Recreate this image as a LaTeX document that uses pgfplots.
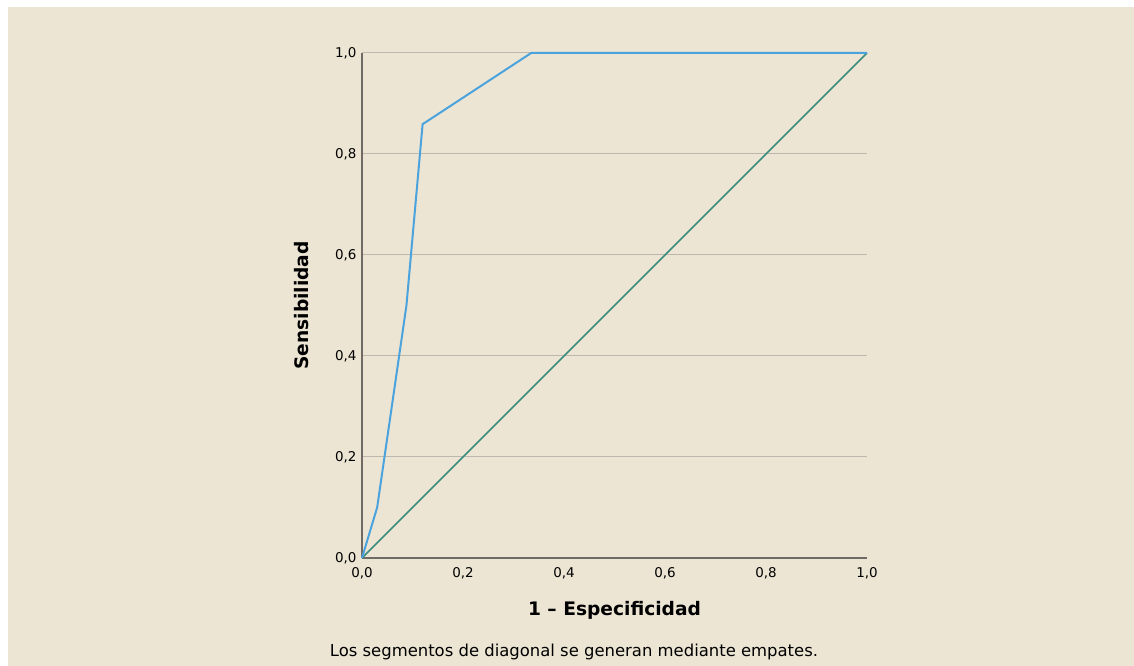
\documentclass[border=0pt]{standalone}
\usepackage{pgfplots}
\pgfplotsset{compat=1.18}
\usepackage{fontspec}
\setmainfont{DejaVu Sans}
\definecolor{bg}{HTML}{ECE5D3}
\definecolor{roc}{HTML}{4BA3DE}
\definecolor{diag}{HTML}{3B8C80}
\definecolor{gridc}{HTML}{BDB8AD}
\definecolor{axc}{HTML}{6F6A64}
\begin{document}
\begin{tikzpicture}[x=1bp,y=1bp]
\fill[white] (0,0) rectangle (1134,666);
\fill[bg] (8,0) rectangle (1134,659);
\begin{axis}[
  at={(362bp,108bp)}, anchor=south west,
  scale only axis, width=505bp, height=505bp,
  xmin=0, xmax=1, ymin=0, ymax=1,
  axis lines*=left,
  axis line style={draw=axc, line width=2bp, -},
  xtick={0,0.2,0.4,0.6,0.8,1}, ytick={0,0.2,0.4,0.6,0.8,1},
  major tick length=0pt,
  ymajorgrids, major grid style={draw=gridc, line width=1bp},
  /pgf/number format/.cd, use comma, fixed, fixed zerofill, precision=1, assume math mode=true,
  /pgfplots/.cd,
  tick label style={font=\fontsize{13.5}{13.5}\selectfont, text=black},
  xticklabel style={yshift=-6bp},
  yticklabel style={xshift=-2bp},
  xlabel={1 – Especificidad},
  ylabel={Sensibilidad},
  label style={font=\bfseries\fontsize{18.7}{18.7}\selectfont},
  xlabel style={at={(axis description cs:0.5,-0.103)}, anchor=center},
  ylabel style={at={(axis description cs:-0.119,0.5)}, anchor=center, rotate=0},
  clip=false,
]
\addplot[diag, line width=1.5bp] coordinates {(0,0) (1,1)};
\addplot[roc, line width=2bp] coordinates {(0,0) (0.03,0.1) (0.088,0.5) (0.12,0.859) (0.335,1) (1,1)};
\end{axis}
\node[font=\fontsize{16.5}{16.5}\selectfont, anchor=center] at (574,14) {Los segmentos de diagonal se generan mediante empates.};
\end{tikzpicture}
\end{document}
